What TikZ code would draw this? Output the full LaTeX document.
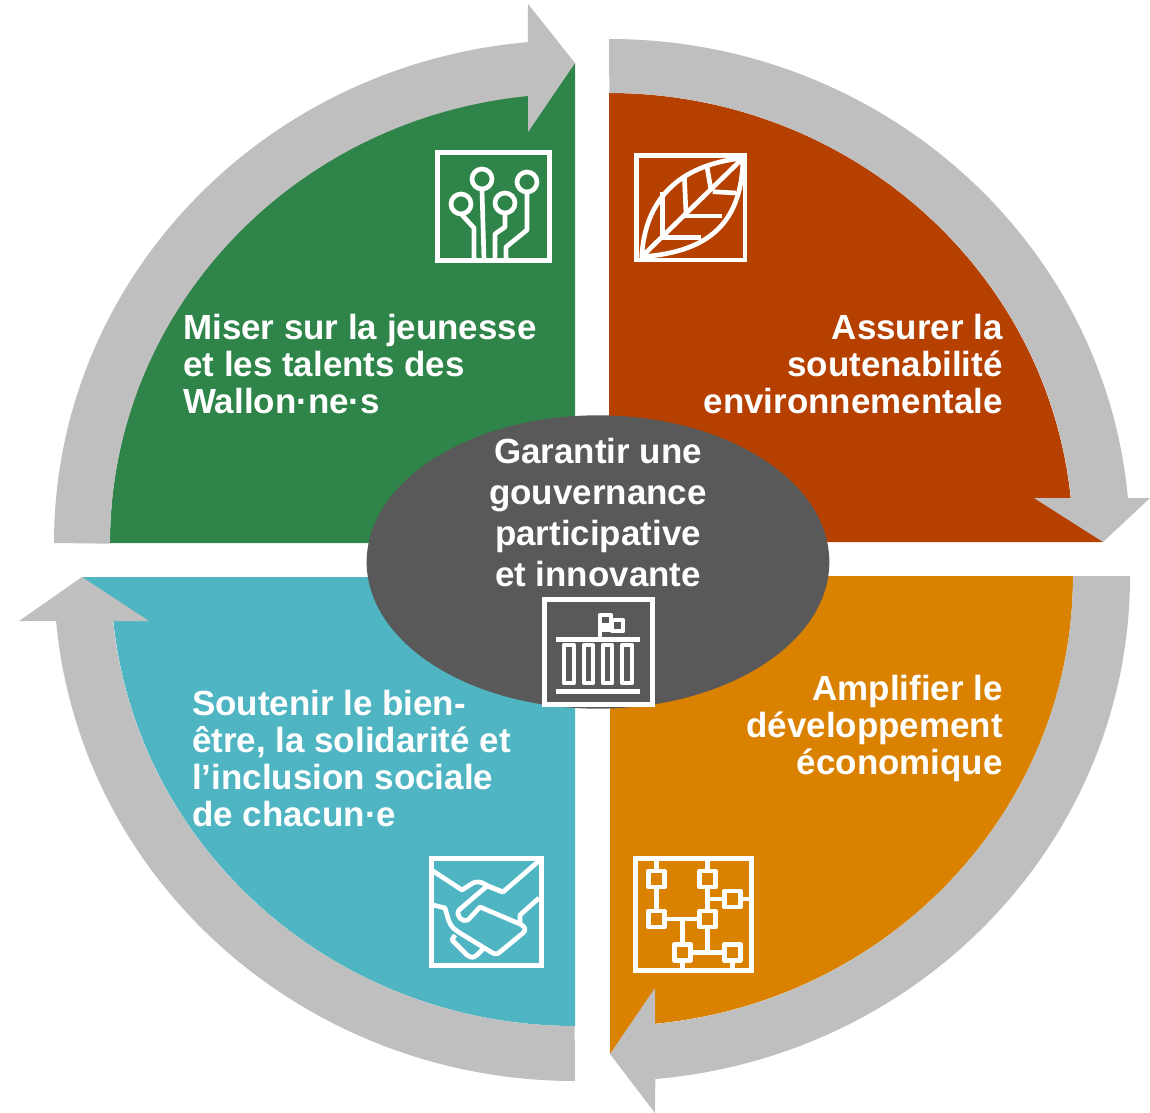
\documentclass[tikz,border=0pt]{standalone}
\usepackage{fontspec}
\setmainfont{Liberation Sans}
\usetikzlibrary{shapes.geometric}
\definecolor{cgreen}{HTML}{2E8449}
\definecolor{cred}{HTML}{B54000}
\definecolor{corange}{HTML}{DA8200}
\definecolor{cblue}{HTML}{50B5C3}
\definecolor{cgray}{HTML}{BFBFBF}
\definecolor{chub}{HTML}{595959}
\tikzset{
  band/.style={fill=cgray,draw=none},
  quarter/.style={draw=none},
  label/.style={text=white,font=\fontsize{26.2}{27.75}\bfseries\selectfont,inner sep=0pt},
  hublabel/.style={text=white,font=\fontsize{26.2}{30.75}\bfseries\selectfont,inner sep=0pt,align=center,anchor=north},
  iconframe/.style={draw=white,line width=3.7pt},
  iconline/.style={draw=white,line width=3.5pt,line join=round},
}
\begin{document}
\begin{tikzpicture}[x=0.75pt,y=-0.75pt]
\useasboundingbox (0,0) rectangle (1150,1113);
% coloured quarters
\fill[cgreen,quarter] (110,543) arc[start angle=180,end angle=264.2,x radius=465,y radius=450] -- (575,63) -- (575,543) -- cycle;
\fill[cred,quarter] (609,93) arc[start angle=270,end angle=354.26,x radius=464,y radius=450] -- (1103,542) -- (609,542) -- cycle;
\fill[corange,quarter] (1073,576) arc[start angle=0,end angle=84.3,x radius=464,y radius=450] -- (610,1054) -- (610,576) -- cycle;
\fill[cblue,quarter] (575,1026) arc[start angle=90,end angle=174.26,x radius=464,y radius=450] -- (82,577) -- (575,577) -- cycle;
% grey arrows
\path[band] (54,543) arc[start angle=180,end angle=264.8,x radius=521,y radius=503] -- (528,4) -- (575,63) -- (528,132) -- (528,96) arc[start angle=264.2,end angle=180,x radius=465,y radius=450] -- cycle;
\path[band] (609,39) arc[start angle=270,end angle=354.9,x radius=521,y radius=504] -- (1150,498) -- (1103,542) -- (1034,498) -- (1071,498) arc[start angle=354.26,end angle=270,x radius=464,y radius=450] -- cycle;
\path[band] (1130,576) arc[start angle=0,end angle=84.9,x radius=521,y radius=505] -- (655,1113) -- (610,1054) -- (655,988) -- (655,1024) arc[start angle=84.3,end angle=0,x radius=464,y radius=450] -- cycle;
\path[band] (575,1081) arc[start angle=90,end angle=174.89,x radius=521,y radius=505] -- (19,621) -- (82,577) -- (149,621) -- (113,621) arc[start angle=174.26,end angle=90,x radius=464,y radius=450] -- cycle;
% hub
\node[ellipse,fill=chub,draw=none,inner sep=0pt,minimum width=347pt,minimum height=220pt] (hub) at (598,562) {};
% labels
\node[label,align=left,anchor=north west] (youth) at (183,314) {Miser sur la jeunesse\\et les talents des\\Wallon·ne·s};
\node[label,align=right,anchor=north east] (env) at (1003,314) {Assurer la\\soutenabilité\\environnementale};
\node[label,align=right,anchor=north east] (eco) at (1003,675) {Amplifier le\\développement\\économique};
\node[label,align=left,anchor=north west] (care) at (192,690) {Soutenir le bien-\\être, la solidarité et\\l’inclusion sociale\\de chacun·e};
\node[hublabel] (gov) at (598,438) {Garantir une\\gouvernance\\participative\\et innovante};
% icon: circuit tree
\draw[iconframe] (437.5,152.5) rectangle (549.5,260.5);
\draw[iconline] (482,179) circle[radius=10];
\draw[iconline] (527,182) circle[radius=10];
\draw[iconline] (461,204) circle[radius=10];
\draw[iconline] (505,203) circle[radius=10];
\draw[iconline] (482,190) -- (484,260);
\draw[iconline] (462,215) -- (474,228) -- (474,260);
\draw[iconline] (505,214) -- (505,227) -- (495,234) -- (495,260);
\draw[iconline] (527,193) -- (527,230) -- (506,247) -- (506,260);
% icon: leaf
\draw[iconframe] (636.5,155.5) rectangle (745,260);
\draw[iconline] (641.7,256.7) .. controls (645,200) and (678,165) .. (743,158) .. controls (742,220) and (712,252) .. (641.7,256.7) -- (743,158);
\draw[iconline] (662.7,192) -- (662.7,235);
\draw[iconline] (684.3,175) -- (686,213);
\draw[iconline] (706.7,165) -- (711,190);
\draw[iconline] (661.7,237.3) -- (701,237.3);
\draw[iconline] (685,216) -- (722,216);
\draw[iconline] (712.7,191.7) -- (736,193);
% icon: handshake
\draw[iconframe] (431.5,858.5) rectangle (541.5,965.5);
\draw[iconline] (433,871) -- (462,890) -- (473,883) .. controls (480,880) and (484,884) .. (488,886) -- (503,892) -- (540,860);
\draw[iconline] (503,892) -- (487,886) -- (459,910) .. controls (455,916) and (463,923) .. (468,920) -- (480,907) -- (520,924) .. controls (526,927) and (526,930) .. (523,933) -- (500,952) .. controls (497,955) and (494,954) .. (491,952) -- (460,933) .. controls (450,927) and (449,922) .. (447,915) -- (445,908) -- (433,905);
\draw[iconline] (520,924) -- (520,915) -- (539,898);
\draw[iconline] (455,935) -- (452,940) -- (467,955) .. controls (472,959) and (474,957) .. (477,955) -- (484,948);
% icon: network
\draw[iconframe] (635.5,858.5) rectangle (751.5,970.5);
\foreach \n/\cx/\cy in {a/656.7/879,b/707.3/879,c/732.3/899,d/656.7/919,e/707.3/919,f/682.3/952.3,g/732.3/952.3}{
  \draw[iconline] (\cx-8,\cy-8) rectangle (\cx+8,\cy+8);
}
\draw[iconline] (656.7,860) -- (656.7,871) (656.7,887) -- (656.7,911);
\draw[iconline] (707.3,860) -- (707.3,871) (707.3,887) -- (707.3,911);
\draw[iconline] (707.3,899) -- (724.3,899) (740.3,899) -- (750,899);
\draw[iconline] (664.7,919) -- (699.3,919);
\draw[iconline] (682.3,919) -- (682.3,944.3);
\draw[iconline] (707.3,927) -- (707.3,952.3);
\draw[iconline] (690.3,952.3) -- (724.3,952.3);
\draw[iconline] (682.3,960.3) -- (682.3,969) (732.3,960.3) -- (732.3,969);
% icon: institution
\draw[iconframe] (544.5,599.5) rectangle (652.5,704.5);
\fill[white] (556,637) rectangle (640,642);
\fill[white] (556,689) rectangle (640,694);
\foreach \cl/\cr in {564/574,584/593,603/612,622/632}{
  \draw[iconline] (\cl,645) rectangle (\cr,683);
}
\draw[iconline] (600,637) -- (600,615) -- (611,615) -- (611,630) -- (600,630);
\fill[white] (600,623) rectangle (611,632);
\draw[iconline] (612,620) rectangle (623,631);
\end{tikzpicture}
\end{document}
